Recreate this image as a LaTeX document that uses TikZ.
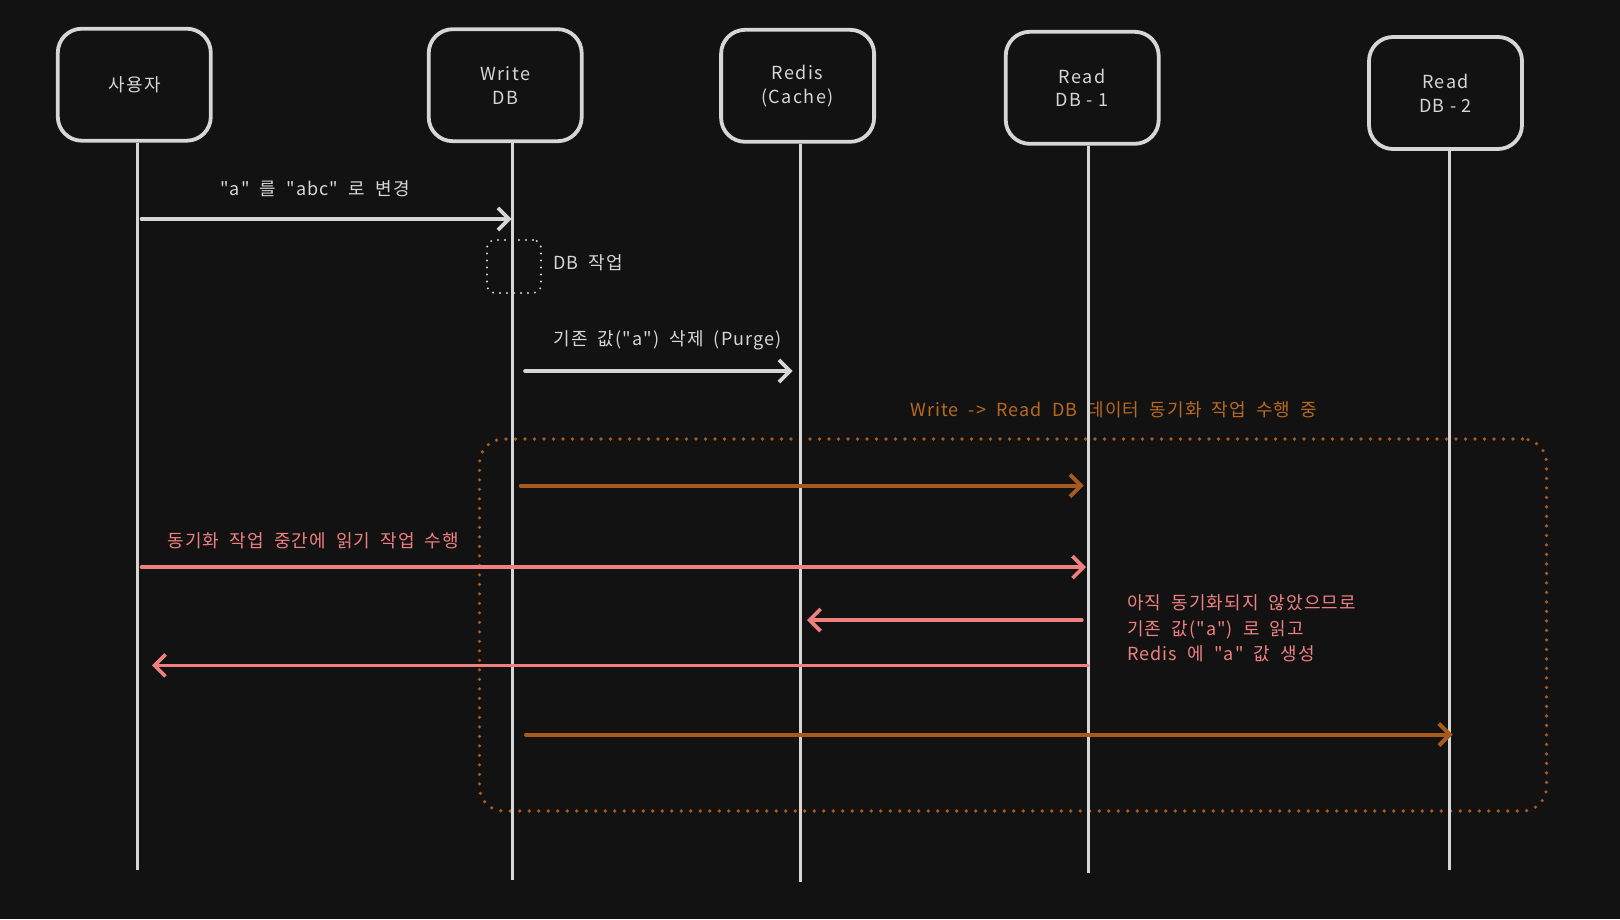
\documentclass[tikz,border=0pt]{standalone}
\usepackage{fontspec}
\setmainfont{Noto Sans CJK KR}[Ligatures=TeXOff]
\newfontfamily\lblfam{Noto Sans CJK KR}[Ligatures=TeXOff, LetterSpace=6, WordSpace=2]
\newfontfamily\boxfam{Noto Sans CJK KR}[Ligatures=TeXOff, LetterSpace=8]
\usetikzlibrary{arrows.meta}
\definecolor{bg}{HTML}{121212}
\definecolor{ink}{HTML}{D6D6D6}
\definecolor{rust}{HTML}{A65A1C}
\definecolor{rusttext}{HTML}{B8691F}
\definecolor{coral}{HTML}{F08080}
\tikzset{
  actor/.style={draw=ink, line width=3.8pt, rounded corners=24pt, minimum width=153pt,
    minimum height=112pt, align=center, text=ink, fill=bg, inner sep=0pt,
    font=\boxfam\fontsize{18}{23.8}\selectfont},
  life/.style={draw=ink, line width=3pt},
  lbl/.style={text=ink, inner sep=0pt, font=\lblfam\fontsize{18}{25.3}\selectfont},
  msg/.style={line width=3.6pt, line cap=round, line join=round,
    -{Straight Barb[length=11pt,width=22pt]}},
  wmsg/.style={msg, draw=ink},
  omsg/.style={msg, draw=rust, line width=4pt},
  pmsg/.style={msg, draw=coral},
  wdots/.style={draw=ink, line width=2.2pt, line cap=round, dash pattern=on 0pt off 7pt, rounded corners=8pt},
  odots/.style={draw=rust, line width=3.6pt, line cap=round, dash pattern=on 0pt off 9.5pt, rounded corners=24pt},
}
\begin{document}
\begin{tikzpicture}[x=1pt,y=-1pt]
\fill[bg] (0,0) rectangle (1620,919);
\useasboundingbox (0,0) rectangle (1620,919);

% sync region
\node[odots, minimum width=1067pt, minimum height=372pt] (sync) at (1013,625) {};
\node[lbl, text=rusttext, anchor=west] (synct) at (910,410)
  {Write -> Read DB 데이터 동기화 작업 수행 중};

% actors
\node[actor] (user) at (134.3,84.7) {사용자};
\node[actor] (wdb) at (505.2,85.2) {Write\\DB};
\node[actor] (redis) at (797.6,85.8) {Redis\\(Cache)};
\node[actor] (rdb1) at (1082.2,87.8) {Read\\DB - 1};
\node[actor] (rdb2) at (1445.5,93) {Read\\DB - 2};

% lifeline ends
\coordinate (userE) at (137.4,870);
\coordinate (wdbE) at (512.5,880);
\coordinate (redisE) at (800.7,882);
\coordinate (rdb1E) at (1088,873);
\coordinate (rdb2E) at (1449.6,870);
\draw[life] (user.south -| userE) -- (userE);
\draw[life] (wdb.south -| wdbE) -- (wdbE);
\draw[life] (redis.south -| redisE) -- (redisE);
\draw[life] (rdb1.south -| rdb1E) -- (rdb1E);
\draw[life] (rdb2.south -| rdb2E) -- (rdb2E);

% message 1
\node[lbl] (m1t) at (315,189) {"a" 를 "abc" 로 변경};
\coordinate (m1s) at (141.5,219);
\coordinate (m1e) at (511.5,219);
\draw[wmsg] (m1s) -- (m1e);

% DB work
\node[wdots, minimum width=54pt, minimum height=53pt] (dbw) at (514,266.5) {};
\node[lbl, anchor=west] (dbwt) at (552.8,262.4) {DB 작업};

% purge
\node[lbl] (m2t) at (667.5,340) {기존 값("a") 삭제 (Purge)};
\coordinate (m2s) at (525,371);
\coordinate (m2e) at (792.5,371);
\draw[wmsg] (m2s) -- (m2e);

% sync to read 1
\coordinate (s1s) at (520.7,485.6);
\coordinate (s1e) at (1083.8,485.6);
\draw[omsg] (s1s) -- (s1e);

% read request
\node[lbl, text=coral, anchor=west] (rt) at (167.4,540.4) {동기화 작업 중간에 읽기 작업 수행};
\coordinate (r1s) at (141.5,567.2);
\coordinate (r1e) at (1086,567.2);
\draw[pmsg] (r1s) -- (r1e);

% to redis
\coordinate (r2s) at (1081.8,620);
\coordinate (r2e) at (807,620);
\draw[pmsg] (r2s) -- (r2e);

\node[lbl, text=coral, anchor=west, align=left] (note) at (1127,628.5)
  {아직 동기화되지 않았으므로\\기존 값("a") 로 읽고\\Redis 에 "a" 값 생성};

% back to user
\coordinate (r3s) at (1088,665.4);
\coordinate (r3e) at (152,665.4);
\draw[pmsg] (r3s) -- (r3e);

% sync to read 2
\coordinate (s2s) at (526,734.6);
\coordinate (s2e) at (1452.7,734.6);
\draw[omsg] (s2s) -- (s2e);
\end{tikzpicture}
\end{document}
